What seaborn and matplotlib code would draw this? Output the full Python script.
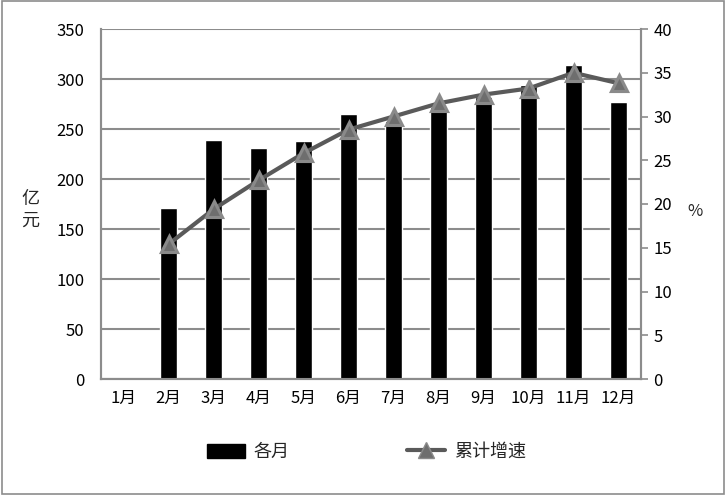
"""各月金额与累计增速组合图。"""

import matplotlib.pyplot as plt
import pandas as pd
import seaborn as sns
from matplotlib.lines import Line2D
from matplotlib.patches import Patch, Rectangle

MONTHS = ["1月", "2月", "3月", "4月", "5月", "6月", "7月", "8月", "9月", "10月", "11月", "12月"]
MONTHLY = [None, 171, 239, 231, 238, 265, 258, 272, 282, 294, 314, 277]
GROWTH = [None, 15.4, 19.4, 22.7, 25.8, 28.5, 30.0, 31.5, 32.5, 33.2, 35.0, 33.8]

GRID_COLOR = "#8c8c8c"
LINE_COLOR = "#5a5a5a"

sns.set_theme(style="white")
plt.rcParams["font.family"] = ["Noto Sans CJK SC", "DejaVu Sans"]

bars = pd.DataFrame({"月份": MONTHS, "金额": MONTHLY}).dropna()
rates = pd.DataFrame({"月份": MONTHS, "增速": GROWTH}).dropna()

fig = plt.figure(figsize=(7.26, 4.95), dpi=100)
ax = fig.add_axes([101 / 726, 1 - 379 / 495, 540 / 726, 350 / 495])

sns.barplot(data=bars, x="月份", y="金额", order=MONTHS, color="black",
            width=0.37, saturation=1, ax=ax, zorder=3)
ax.set_ylim(0, 350)
ax.set_yticks(range(0, 351, 50))
ax.set_xlim(-0.5, 11.5)
ax.grid(axis="y", color=GRID_COLOR, linewidth=1.5, zorder=0)
ax.set_axisbelow(True)
ax.set_xlabel("")
ax.set_ylabel("")

ax2 = ax.twinx()
sns.pointplot(data=rates, x="月份", y="增速", order=MONTHS, color=LINE_COLOR,
              markers="^", markersize=11, linewidth=3, ax=ax2, zorder=4)
for line in ax2.lines:
    line.set_markerfacecolor("#6e6e6e")
    line.set_markeredgecolor("#8a8a8a")
ax2.set_ylim(0, 40)
ax2.set_yticks(range(0, 41, 5))
ax2.set_xlim(-0.5, 11.5)
ax2.set_xlabel("")
ax2.set_ylabel("")

for a in (ax, ax2):
    a.spines["top"].set_visible(False)
    for side in ("left", "right", "bottom"):
        a.spines[side].set_color(GRID_COLOR)
        a.spines[side].set_linewidth(1.5)
    a.tick_params(labelsize=12, colors="black")

ax.tick_params(axis="y", length=0, pad=12)
ax2.tick_params(axis="y", direction="out", length=5, color=GRID_COLOR, width=1.2, pad=4)
ax.tick_params(axis="x", length=0, pad=8)
ax.set_xticks([i - 0.5 for i in range(13)], minor=True)
ax.tick_params(axis="x", which="minor", direction="out", length=6, color=GRID_COLOR, width=1.2)

fig.text(30 / 726, 1 - 210 / 495, "亿\n元", fontsize=13, ha="center", va="center", linespacing=1.3)
fig.text(695 / 726, 1 - 212 / 495, "%", fontsize=12, ha="center", va="center")

handles = [
    Patch(facecolor="black", edgecolor="black"),
    Line2D([0], [0], color=LINE_COLOR, linewidth=3, marker="^", markersize=11,
           markerfacecolor="#6e6e6e", markeredgecolor="#8a8a8a"),
]
fig.legend(handles, ["各月", "累计增速"], loc="center", bbox_to_anchor=(0.505, 1 - 452 / 495),
           ncol=2, frameon=False, fontsize=13, columnspacing=6.5, handlelength=2.1,
           handleheight=0.8, handletextpad=0.5)

fig.patches.append(Rectangle((0.003, 0.003), 0.994, 0.994, transform=fig.transFigure,
                             fill=False, edgecolor=GRID_COLOR, linewidth=1.2))

fig.savefig("out.png", dpi=100)
